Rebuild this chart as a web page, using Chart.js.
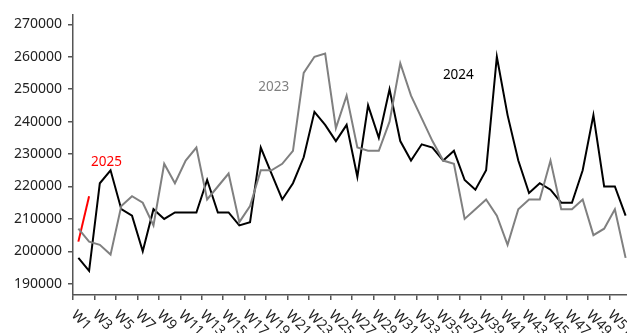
<!DOCTYPE html>
<html>
<head>
<meta charset="utf-8">
<script src="https://cdn.jsdelivr.net/npm/chart.js@4/dist/chart.umd.min.js"></script>
<style>
	html, body { margin: 0; padding: 0; background: #fff; overflow: hidden; }
	#box { width: 627px; height: 333px; }
</style>
</head>
<body>
<div id="box"><canvas id="grafico" width="627" height="333"></canvas></div>
<script>
// settimane W1..W52
const settimane = Array.from({ length: 52 }, (_, i) => i + 1);

const anno2023 = [207000, 203000, 202000, 199000, 214000, 217000, 215000, 208000, 227000, 221000,
	228000, 232000, 216000, 220000, 224000, 209000, 214000, 225000, 225000, 227000,
	231000, 255000, 260000, 261000, 238000, 248000, 232000, 231000, 231000, 240000,
	258000, 248000, 241000, 234000, 228000, 227000, 210000, 213000, 216000, 211000,
	202000, 213000, 216000, 216000, 228000, 213000, 213000, 216000, 205000, 207000,
	213000, 198000];

const anno2024 = [198000, 194000, 221000, 225000, 213000, 211000, 200000, 213000, 210000, 212000,
	212000, 212000, 222000, 212000, 212000, 208000, 209000, 232000, 224000, 216000,
	221000, 229000, 243000, 239000, 234000, 239000, 223000, 245000, 235000, 250000,
	234000, 228000, 233000, 232000, 228000, 231000, 222000, 219000, 225000, 260000,
	242000, 228000, 218000, 221000, 219000, 215000, 215000, 225000, 242000, 220000,
	220000, 211000];

const anno2025 = [203000, 217000];

const tickY = [190000, 200000, 210000, 220000, 230000, 240000, 250000, 260000, 270000];
const tickX = [1, 3, 5, 7, 9, 11, 13, 15, 17, 19, 21, 23, 25, 27, 29, 31, 33, 35, 37, 39, 41, 43, 45, 47, 49, 51];

// scritte vicino alle linee (x in settimane, y nel valore)
const etichette = [
	{ testo: '2025', x: 4.12, y: 227600, colore: '#ff0000' },
	{ testo: '2023', x: 19.70, y: 250600, colore: '#808080' },
	{ testo: '2024', x: 36.91, y: 254400, colore: '#000000' }
];

const FONT = '"Noto Sans", sans-serif';
const ASSE = '#555555';

function punti(valori){
	// il punto della settimana sta a metà tra due tacche
	return valori.map((v, i) => ({ x: settimane[i] + 0.5, y: v }));
}

const testiPlugin = {
	id: 'testi',
	afterDraw(chart){
		const ctx = chart.ctx;
		const sx = chart.scales.x;
		const sy = chart.scales.y;
		ctx.save();
		ctx.font = '14px ' + FONT;
		ctx.fillStyle = '#222222';
		ctx.textAlign = 'left';
		ctx.textBaseline = 'middle';
		for(const t of sx.ticks){
			const px = sx.getPixelForValue(t.value);
			ctx.save();
			ctx.translate(px + 0.5, sx.top + 18);
			ctx.rotate(Math.PI / 4);
			ctx.fillText('W' + t.value, 0, 0);
			ctx.restore();
		}
		ctx.font = '13.5px ' + FONT;
		ctx.textAlign = 'center';
		for(const e of etichette){
			ctx.fillStyle = e.colore;
			ctx.fillText(e.testo, sx.getPixelForValue(e.x), sy.getPixelForValue(e.y));
		}
		ctx.restore();
	}
};

function serie(label, valori, colore){
	return {
		label: label,
		data: punti(valori),
		borderColor: colore,
		backgroundColor: colore,
		borderWidth: 2,
		pointRadius: 0,
		tension: 0,
		fill: false
	};
}

const ctx = document.getElementById('grafico').getContext('2d');
new Chart(ctx, {
	type: 'line',
	data: {
		datasets: [
			serie('2023', anno2023, '#808080'),
			serie('2024', anno2024, '#000000'),
			serie('2025', anno2025, '#ff0000')
		]
	},
	options: {
		responsive: false,
		animation: false,
		devicePixelRatio: 1,
		layout: { padding: { top: 12, right: 0, bottom: 0, left: 0 } },
		plugins: {
			legend: { display: false },
			tooltip: { enabled: false }
		},
		scales: {
			x: {
				type: 'linear',
				min: 1,
				max: 52.63,
				afterBuildTicks: s => { s.ticks = tickX.map(v => ({ value: v })); },
				afterFit: s => { s.height = 38; },
				ticks: { display: false },
				grid: { display: true, drawOnChartArea: false, drawTicks: true, tickLength: 5, color: ASSE, lineWidth: 1.5 },
				border: { display: true, color: ASSE, width: 1.5 }
			},
			y: {
				min: 186550,
				max: 273050,
				afterBuildTicks: s => { s.ticks = tickY.map(v => ({ value: v })); },
				afterFit: s => { s.width = 73; },
				ticks: {
					font: { family: FONT, size: 14 },
					color: '#222222',
					padding: 6,
					callback: v => String(v)
				},
				grid: { display: true, drawOnChartArea: false, drawTicks: true, tickLength: 5, color: ASSE, lineWidth: 1.5 },
				border: { display: true, color: ASSE, width: 1.5 }
			}
		}
	},
	plugins: [testiPlugin]
});
</script>
</body>
</html>
